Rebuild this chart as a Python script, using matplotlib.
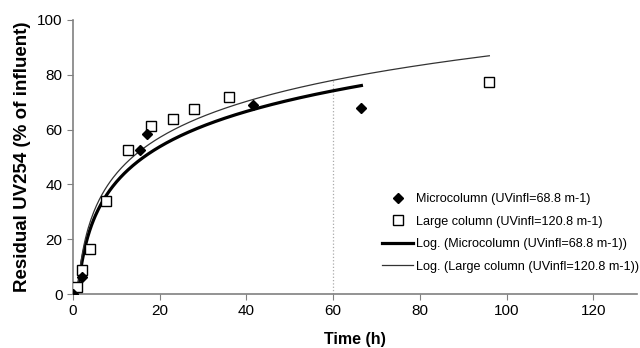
import numpy as np
import matplotlib
matplotlib.use("Agg")
import matplotlib.pyplot as plt

plt.rcParams["font.family"] = ["Liberation Sans", "DejaVu Sans"]

# data
micro_t = [0, 2, 15.5, 17, 41.5, 66.5]
micro_uv = [0, 6.3, 52.6, 58.3, 68.9, 67.9]
large_t = [0.85, 2, 3.9, 7.6, 12.6, 18, 23, 28, 36, 96]
large_uv = [2.6, 8.8, 16.4, 34, 52.7, 61.3, 64, 67.6, 72, 77.5]

micro_label = "Microcolumn (UVinfl=68.8 m-1)"
large_label = "Large column (UVinfl=120.8 m-1)"
drop_t = 60


def log_fit(t, y):
    t = np.asarray(t, float)
    y = np.asarray(y, float)
    m = t > 0  # log trend needs positive x
    a, b = np.polyfit(np.log(t[m]), y[m], 1)
    return a, b


fig = plt.figure(figsize=(6.4, 3.48), dpi=100)
ax = fig.add_axes([0.114, 0.155, 0.881, 0.788])

a_m, b_m = log_fit(micro_t, micro_uv)
a_l, b_l = log_fit(large_t, large_uv)

# drop line at t=60 up to the large column trend
ax.plot([drop_t, drop_t], [0, a_l * np.log(drop_t) + b_l], color="#aaaaaa",
        linestyle=":", linewidth=0.9, zorder=1)

ax.plot(micro_t, micro_uv, linestyle="none", marker="D", markersize=5.5,
        color="black", label=micro_label, zorder=4)
ax.plot(large_t, large_uv, linestyle="none", marker="s", markersize=7.5,
        markerfacecolor="white", markeredgecolor="black", markeredgewidth=1.0,
        label=large_label, zorder=3)

tm = np.linspace(0.3, max(micro_t), 300)
ax.plot(tm, a_m * np.log(tm) + b_m, color="black", linewidth=2.3,
        label="Log. (" + micro_label + ")", zorder=2)
tl = np.linspace(0.3, max(large_t), 300)
ax.plot(tl, a_l * np.log(tl) + b_l, color="#333333", linewidth=0.9,
        label="Log. (" + large_label + ")", zorder=2)

ax.set_xlim(0, 130)
ax.set_ylim(0, 100)
ax.set_xticks([0, 20, 40, 60, 80, 100, 120])
ax.set_yticks([0, 20, 40, 60, 80, 100])

for s in ["top", "right"]:
    ax.spines[s].set_visible(False)
for s in ["left", "bottom"]:
    ax.spines[s].set_color("#808080")
    ax.spines[s].set_linewidth(1.2)
ax.tick_params(colors="#808080", labelcolor="black", labelsize=11, length=4)

ax.set_xlabel("Time (h)", fontsize=11.5, fontweight="bold", labelpad=10)
ax.set_ylabel("Residual UV254 (% of influent)", fontsize=13.5, fontweight="bold",
              labelpad=4)

ax.legend(loc="lower right", bbox_to_anchor=(1.024, 0.037), frameon=False,
          fontsize=9.1, handlelength=2.5, handletextpad=0.2, labelspacing=0.82)

fig.savefig("out.png", dpi=100)
